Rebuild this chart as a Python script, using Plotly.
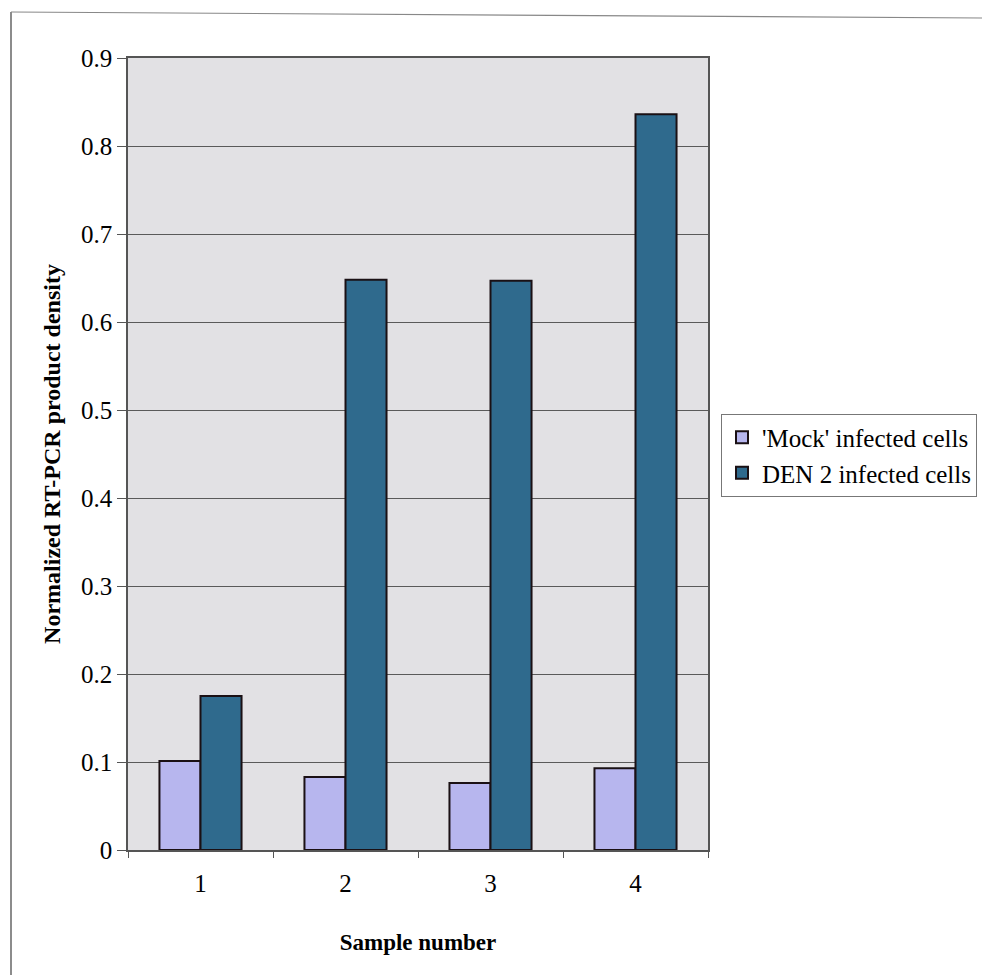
import plotly.graph_objects as go

# Data
samples = ["1", "2", "3", "4"]
mock_values = [0.101, 0.083, 0.076, 0.093]
den2_values = [0.175, 0.648, 0.647, 0.836]
series_names = ["'Mock' infected cells", "DEN 2 infected cells"]
y_ticks = [0, 0.1, 0.2, 0.3, 0.4, 0.5, 0.6, 0.7, 0.8, 0.9]
y_tick_text = ["0", "0.1", "0.2", "0.3", "0.4", "0.5", "0.6", "0.7", "0.8", "0.9"]

FONT = "Liberation Serif, Times New Roman, serif"

fig = go.Figure()
fig.add_trace(go.Bar(
    x=samples, y=mock_values, name=series_names[0],
    marker=dict(color="#b7b6ee", line=dict(color="#1a1014", width=2)),
))
fig.add_trace(go.Bar(
    x=samples, y=den2_values, name=series_names[1],
    marker=dict(color="#2f6a8d", line=dict(color="#1a1014", width=2)),
))

# plot area in pixels: x 128..708, y 58..850
W, H = 982, 975
L, R, T, B = 128, 708, 58, 850


def px(x):
    return (x - L) / (R - L)


def py(y):
    return (B - y) / (B - T)


# outer frame lines around the figure
frame = [
    dict(type="line", xref="paper", yref="paper",
         x0=px(11), y0=py(12), x1=px(11), y1=py(975),
         line=dict(color="#666", width=1.5)),
    dict(type="line", xref="paper", yref="paper",
         x0=px(11), y0=py(12), x1=px(982), y1=py(18),
         line=dict(color="#888", width=1.2)),
]

fig.update_layout(
    width=W, height=H,
    autosize=False,
    margin=dict(l=L, r=W - R, t=T, b=H - B, autoexpand=False),
    paper_bgcolor="white",
    plot_bgcolor="#e2e1e4",
    barmode="group",
    bargap=0.434,
    bargroupgap=0,
    font=dict(family=FONT, color="black", size=24),
    showlegend=True,
    legend=dict(
        x=px(721), y=py(455), xanchor="left", yanchor="middle",
        bgcolor="white", bordercolor="#777", borderwidth=1,
        font=dict(family=FONT, size=25, color="black"),
        itemsizing="constant",
        tracegroupgap=2,
    ),
    shapes=frame,
)

fig.update_xaxes(
    type="category",
    showgrid=False,
    ticks="outside", tickson="boundaries", ticklen=6, tickcolor="#555",
    showline=True, linecolor="#555", linewidth=1.5, mirror=True,
    tickfont=dict(family=FONT, size=25),
    ticklabelstandoff=10,
    automargin=False,
    title=dict(text="<b>Sample number</b>", font=dict(family=FONT, size=23), standoff=38),
)

fig.update_yaxes(
    range=[0, 0.9],
    tickvals=y_ticks, ticktext=y_tick_text,
    showgrid=True, gridcolor="#5a5a5a", gridwidth=1,
    ticks="outside", ticklen=9, tickcolor="#555",
    showline=True, linecolor="#555", linewidth=1.5, mirror=True,
    zeroline=False,
    automargin=False,
    tickfont=dict(family=FONT, size=25),
    title=dict(text="<b>Normalized RT-PCR product density</b>",
               font=dict(family=FONT, size=24), standoff=14),
)

fig.write_html("out.html")
